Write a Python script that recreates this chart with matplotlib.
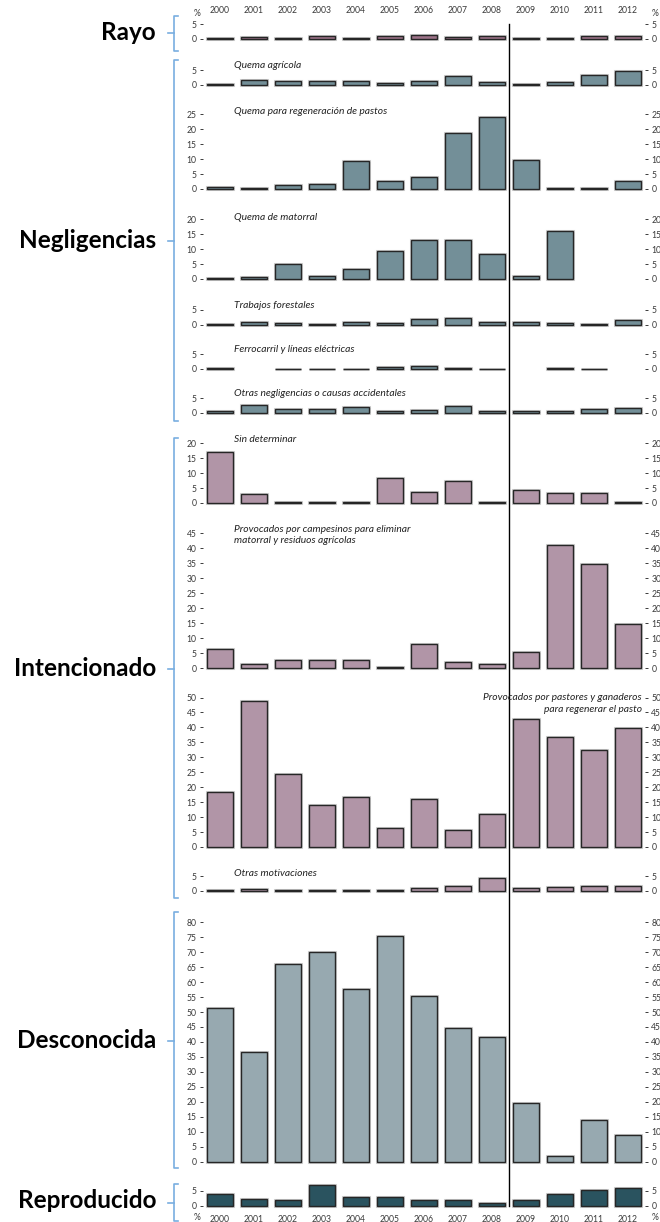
import numpy as np
import matplotlib
matplotlib.use("Agg")
import matplotlib.pyplot as plt
import matplotlib.patheffects as pe
from matplotlib.lines import Line2D
from matplotlib.transforms import blended_transform_factory

plt.rcParams['font.family'] = ['Lato', 'DejaVu Sans']

years = [str(y) for y in range(2000, 2013)]
nan = np.nan

rayo = [0.4, 0.7, 0.2, 0.9, 0.3, 0.9, 1.3, 0.7, 0.9, 0.2, 0.4, 1.0, 1.1]
quema_agricola = [0.5, 1.7, 1.2, 1.2, 1.5, 0.7, 1.2, 2.9, 0.9, 0.4, 0.9, 3.3, 4.7]
quema_pastos = [0.7, 0.4, 1.2, 1.7, 9.5, 2.8, 4.1, 18.8, 24.1, 9.6, 0.2, 0.5, 2.8]
quema_matorral = [0.2, 0.8, 4.9, 1.0, 3.4, 9.4, 13.0, 13.0, 8.2, 1.1, 16.2, nan, nan]
trabajos_forestales = [0.2, 0.7, 0.5, 0.2, 0.9, 0.5, 2.0, 2.2, 0.7, 0.8, 0.6, 0.2, 1.6]
ferrocarril = [0.4, nan, 0.1, 0.1, 0.1, 0.7, 0.9, 0.3, 0.1, nan, 0.3, 0.1, nan]
otras_negligencias = [0.6, 2.7, 1.4, 1.3, 2.0, 0.6, 0.9, 2.3, 0.6, 0.6, 0.6, 1.4, 1.6]
sin_determinar = [17.0, 3.1, 0.45, 0.2, 0.45, 8.4, 3.8, 7.3, 0.2, 4.2, 3.4, 3.4, 0.4]
campesinos = [6.5, 1.5, 2.6, 2.6, 2.8, 0.2, 7.9, 2.0, 1.5, 5.4, 41.3, 34.7, 14.7]
pastores = [18.5, 48.8, 24.5, 13.9, 16.8, 6.2, 16.1, 5.8, 11.1, 42.8, 36.7, 32.4, 39.9]
otras_motivaciones = [0.45, 0.7, 0.2, 0.2, 0.45, 0.45, 1.1, 1.6, 4.3, 1.0, 1.5, 1.8, 1.8]
desconocida = [51.2, 36.7, 65.9, 70.1, 57.6, 75.4, 55.4, 44.5, 41.5, 19.4, 2.0, 14.0, 8.9]
reproducido = [3.9, 2.1, 1.7, 6.9, 2.8, 2.9, 1.7, 2.0, 1.0, 2.0, 3.7, 5.2, 5.9]

subtitles = ["Quema agrícola", "Quema para regeneración de pastos", "Quema de matorral",
             "Trabajos forestales", "Ferrocarril y líneas eléctricas",
             "Otras negligencias o causas accidentales", "Sin determinar",
             "Provocados por campesinos para eliminar\nmatorral y residuos agrícolas",
             "Provocados por pastores y ganaderos\npara regenerar el pasto",
             "Otras motivaciones"]
groups = ["Rayo", "Negligencias", "Intencionado", "Desconocida", "Reproducido"]

C_RAYO = '#9d7389'
C_NEG = '#738f98'
C_INT = '#b195a7'
C_DES = '#97a9b0'
C_REP = '#2a535f'

W, H = 660, 1222
fig = plt.figure(figsize=(W / 100, H / 100), dpi=100)

def fx(x):
    return x / W

def fy(y):
    return 1 - y / H

AX_L, AX_R = 203, 645
PXU = 2.99  # pixels per unit

# (values, color, zero pixel y, ymax, subtitle index, subtitle y)
panels = [
    (rayo, C_RAYO, 39, 5, None, None),
    (quema_agricola, C_NEG, 85, 5, 0, 66),
    (quema_pastos, C_NEG, 189, 25, 1, 111),
    (quema_matorral, C_NEG, 279, 20, 2, 218),
    (trabajos_forestales, C_NEG, 324.5, 5, 3, 305),
    (ferrocarril, C_NEG, 369, 5, 4, 349),
    (otras_negligencias, C_NEG, 413, 5, 5, 393),
    (sin_determinar, C_INT, 503, 20, 6, 440),
    (campesinos, C_INT, 668, 45, 7, 535),
    (pastores, C_INT, 847, 50, 8, 703.5),
    (otras_motivaciones, C_INT, 891, 5, 9, 873),
    (desconocida, C_DES, 1161.5, 80, None, None),
    (reproducido, C_REP, 1205.5, 5, None, None),
]

axes = []
x = np.arange(len(years))
for vals, col, zero, ymax, si, sy in panels:
    hpx = ymax * PXU
    ax = fig.add_axes([fx(AX_L), fy(zero), fx(AX_R - AX_L), hpx / H])
    ax.set_xlim(-0.5, len(years) - 0.5)
    ax.set_ylim(0, ymax)
    bars = ax.bar(x, vals, width=0.78, color=col, edgecolor='#262626',
                  linewidth=1.0, clip_on=False)
    for b in bars:
        b.set_path_effects([pe.Stroke(linewidth=2.2, foreground='#cfcfcf'), pe.Normal()])
    for s in ax.spines.values():
        s.set_visible(False)
    ax.set_yticks(np.arange(0, ymax + 1, 5))
    ax.tick_params(axis='y', left=True, right=True, labelleft=True, labelright=True,
                   length=2.5, width=0.7, pad=2, labelsize=6.2, colors='#3a3a3a',
                   direction='out')
    ax.set_xticks([])
    ax.patch.set_alpha(0)
    axes.append(ax)
    if si is not None:
        if si == 8:
            fig.text(fx(642), fy(sy), subtitles[si], ha='right', va='center',
                     fontsize=7.4, style='italic', color='#222222', linespacing=1.3)
        else:
            fig.text(fx(234), fy(sy), subtitles[si], ha='left', va='center',
                     fontsize=7.4, style='italic', color='#222222', linespacing=1.3)

# year labels top and bottom
for ax, pos, pad in [(axes[0], 'top', 6.5), (axes[-1], 'bottom', 6.5)]:
    ax.set_xticks(x)
    ax.set_xticklabels(years)
    if pos == 'top':
        ax.tick_params(axis='x', top=True, bottom=False, labeltop=True, labelbottom=False,
                       length=0, pad=pad, labelsize=6.2, colors='#3a3a3a')
    else:
        ax.tick_params(axis='x', top=False, bottom=True, labeltop=False, labelbottom=True,
                       length=0, pad=pad, labelsize=6.2, colors='#3a3a3a')

for yy in (13, 1218):
    fig.text(fx(197), fy(yy), '%', ha='center', va='center', fontsize=6.2, color='#3a3a3a')
    fig.text(fx(655), fy(yy), '%', ha='center', va='center', fontsize=6.2, color='#3a3a3a')

# separator line between 2008 and 2009
tr = blended_transform_factory(axes[0].transData, fig.transFigure)
fig.add_artist(Line2D([8.5, 8.5], [fy(24), fy(1206)], transform=tr, color='black', lw=1.0))

# group labels and brackets
BR = '#79aee0'
brackets = [(16, 51, 33), (60, 421, 241), (438, 898, 669), (912, 1168, 1041), (1184, 1221, 1203)]
label_y = [33, 241, 669, 1041, 1201]
for g, (t, b, m), ly in zip(groups, brackets, label_y):
    fig.text(fx(156), fy(ly), g, ha='right', va='center', fontsize=17.5,
             fontweight='bold', color='black')
    xs = [178, 173.5, 173.5, 178]
    ys = [t, t, b, b]
    fig.add_artist(Line2D([fx(v) for v in xs], [fy(v) for v in ys],
                          transform=fig.transFigure, color=BR, lw=1.2))
    fig.add_artist(Line2D([fx(168), fx(173.5)], [fy(m), fy(m)],
                          transform=fig.transFigure, color=BR, lw=1.2))

fig.savefig('out.png', dpi=100)
